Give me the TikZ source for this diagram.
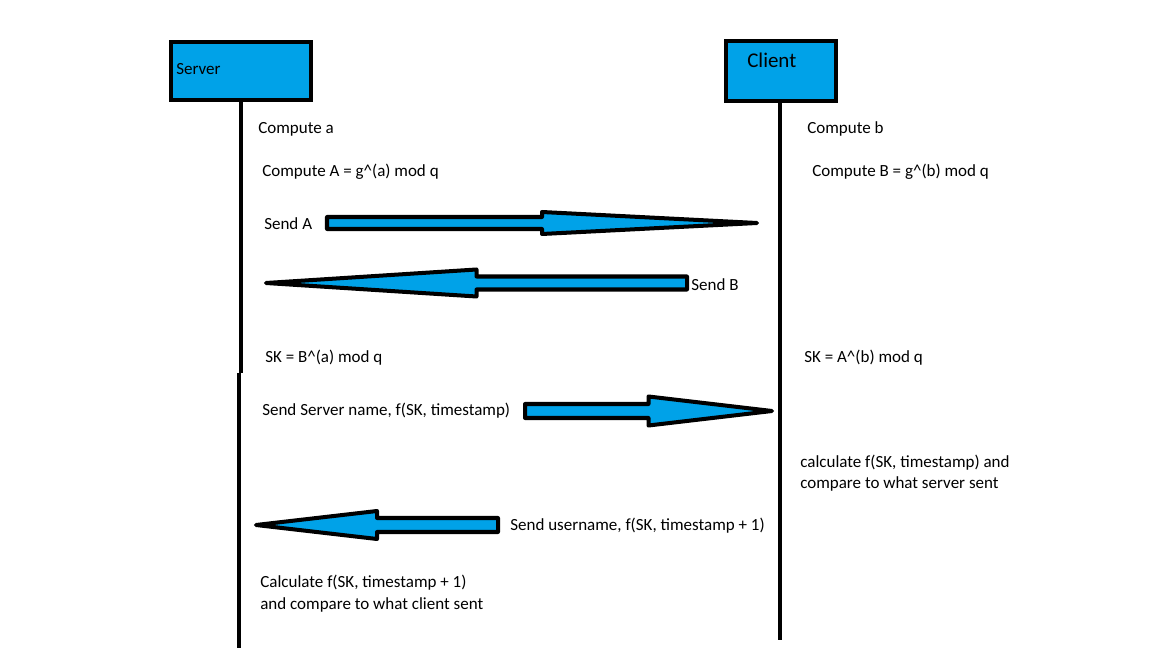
\documentclass[tikz,border=0pt]{standalone}
\usepackage{fontspec}
\setmainfont{Carlito}
\usepackage{tikz}
\usetikzlibrary{calc}
\definecolor{paintblue}{RGB}{0,162,232}

\begin{document}
\begin{tikzpicture}[
 x=0.025cm, y=-0.025cm,
 font=\fontsize{12.1}{15.3}\selectfont,
 actor/.style={rectangle, draw=black, fill=paintblue, line width=2.9pt, inner sep=0pt},
 life/.style={line width=3.3pt},
 fat/.style={draw=black, fill=paintblue, line width=2.85pt, line join=round},
 txt/.style={inner sep=0pt, anchor=base west, text=black, align=left},
]
\useasboundingbox (0,0) rectangle (1152,648);
% lifelines
\coordinate (srvbrk) at (241,373);
\coordinate (srvend) at (239,648);
\coordinate (cliend) at (780,640);
\node[actor, minimum width=3.5cm, minimum height=1.45cm] (srv) at (241,71) {};
\node[actor, minimum width=2.75cm, minimum height=1.5cm] (cli) at (781,71) {};
\draw[life] (srv.south) -- (srvbrk);
\draw[life] (srvbrk -| srvend) -- (srvend);
\draw[life] (cli.south -| cliend) -- (cliend);
\node[txt] (srvlbl) at (176,75) {Server};
\node[txt, font=\fontsize{14.9}{18}\selectfont] (clilbl) at (747,68) {Client};
% server side
\node[txt] (cmpa) at (258,134) {Compute a};
\node[txt] (cmpA) at (262,177) {Compute A = g\textasciicircum(a) mod q};
\node[txt] (sendA) at (264,230) {Send A};
\node[txt] (skS) at (265,363) {SK = B\textasciicircum(a) mod q};
\node[txt] (sendsrv) at (262,416) {Send Server name, f(SK, timestamp)};
\node[txt] (calcS) at (260,609) {Calculate f(SK, timestamp + 1)\\and compare to what client sent};
% client side
\node[txt] (cmpb) at (807,134) {Compute b};
\node[txt] (cmpB) at (812,177) {Compute B = g\textasciicircum(b) mod q};
\node[txt] (sendB) at (691,291) {Send B};
\node[txt] (skC) at (804,363) {SK = A\textasciicircum(b) mod q};
\node[txt] (calcC) at (800,489) {calculate f(SK, timestamp) and\\compare to what server sent};
\node[txt] (sendusr) at (510,531) {Send username, f(SK, timestamp + 1)};
% messages
\coordinate (sendA-t) at (327,223);
\coordinate (sendA-h) at (757,223);
\coordinate (sendB-t) at (687,283);
\coordinate (sendB-h) at (266,283);
\coordinate (srv-t) at (525,411);
\coordinate (srv-h) at (772,411);
\coordinate (usr-t) at (498,525);
\coordinate (usr-h) at (256,525);
\foreach \ta/\tb/\shw/\hdw in {sendA-t/sendA-h/6/11, sendB-t/sendB-h/6.5/13.5,
 srv-t/srv-h/7/14.5, usr-t/usr-h/7/14}
 \draw[fat] ($(\ta)+(0,\shw)$) -- ($(\ta)!0.5!(\tb)+(0,\shw)$) -- ($(\ta)!0.5!(\tb)+(0,\hdw)$)
 -- (\tb) -- ($(\ta)!0.5!(\tb)-(0,\hdw)$) -- ($(\ta)!0.5!(\tb)-(0,\shw)$) -- ($(\ta)-(0,\shw)$) -- cycle;
\end{tikzpicture}
\end{document}
